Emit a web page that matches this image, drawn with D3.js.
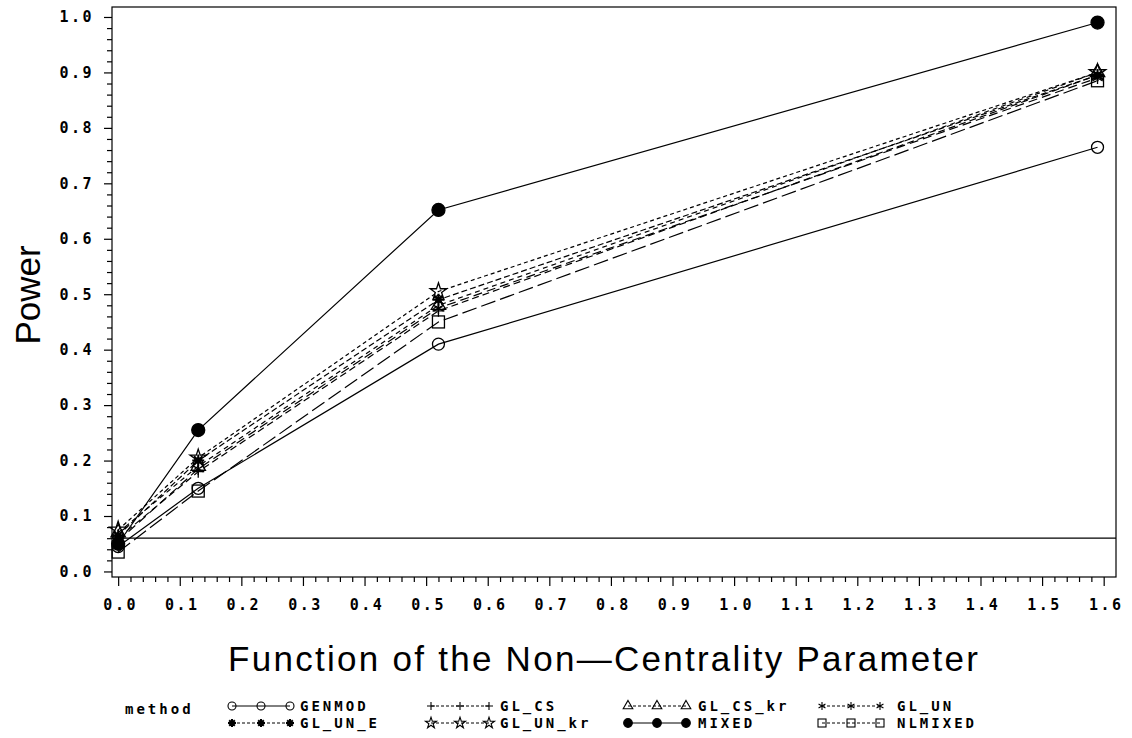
<!DOCTYPE html>
<html>
<head>
<meta charset="utf-8">
<script src="https://cdn.jsdelivr.net/npm/d3@7"></script>
<style>
  body { margin: 0; background: #fff; }
  svg { display: block; }
  .tick-lbl { font-family: "DejaVu Sans Mono", monospace; font-weight: bold; font-size: 15px; letter-spacing: 2.5px; }
  .leg-lbl { font-family: "DejaVu Sans Mono", monospace; font-weight: bold; font-size: 14px; letter-spacing: 3px; }
</style>
</head>
<body>
<div class="svg-container"></div>
<script>
// data
var xValues = [0, 0.13, 0.52, 1.59];
var methods = ["GENMOD", "GL_CS", "GL_CS_kr", "GL_UN", "GL_UN_E", "GL_UN_kr", "MIXED", "NLMIXED"];
var GENMOD   = [0.045, 0.150, 0.410, 0.765];
var GL_CS    = [0.060, 0.180, 0.470, 0.895];
var GL_CS_kr = [0.070, 0.190, 0.480, 0.900];
var GL_UN    = [0.055, 0.185, 0.475, 0.890];
var GL_UN_E  = [0.065, 0.200, 0.490, 0.895];
var GL_UN_kr = [0.075, 0.205, 0.505, 0.900];
var MIXED    = [0.050, 0.255, 0.652, 0.990];
var NLMIXED  = [0.035, 0.145, 0.450, 0.885];
var refLine = 0.06;
var xTicks = [0, 0.1, 0.2, 0.3, 0.4, 0.5, 0.6, 0.7, 0.8, 0.9, 1.0, 1.1, 1.2, 1.3, 1.4, 1.5, 1.6];
var yTicks = [0, 0.1, 0.2, 0.3, 0.4, 0.5, 0.6, 0.7, 0.8, 0.9, 1.0];

var seriesValues = [GENMOD, GL_CS, GL_CS_kr, GL_UN, GL_UN_E, GL_UN_kr, MIXED, NLMIXED];
var styles = {
    GENMOD:   { sym: "circle",   dash: null },
    GL_CS:    { sym: "plus",     dash: "7,4" },
    GL_CS_kr: { sym: "triangle", dash: "5,4" },
    GL_UN:    { sym: "asterisk", dash: "9,5" },
    GL_UN_E:  { sym: "flower",   dash: "6,3" },
    GL_UN_kr: { sym: "star",     dash: "4,3" },
    MIXED:    { sym: "dot",      dash: null },
    NLMIXED:  { sym: "square",   dash: "15,5" }
};

function render() {
    var svg = d3.select(".svg-container").append("svg")
        .attr("width", 1132)
        .attr("height", 738);

    var pLeft = 112, pRight = 1116, pTop = 7, pBottom = 577;

    var x = d3.scaleLinear().domain([-0.01, 1.62]).range([pLeft, pRight]);
    var y = d3.scaleLinear().domain([-0.01, 1.018]).range([pBottom, pTop]);

    // frame
    svg.append("rect")
        .attr("x", pLeft).attr("y", pTop)
        .attr("width", pRight - pLeft).attr("height", pBottom - pTop)
        .attr("fill", "none").attr("stroke", "#000").attr("stroke-width", 1.2);

    // minor ticks
    var xMinor = [], yMinor = [];
    xTicks.forEach(function(t, i) { if (i < xTicks.length - 1) for (var k = 1; k < 5; k++) xMinor.push(t + k * 0.02); });
    yTicks.forEach(function(t, i) { if (i < yTicks.length - 1) for (var k = 1; k < 5; k++) yMinor.push(t + k * 0.02); });

    svg.append("g")
        .attr("transform", "translate(0," + pBottom + ")")
        .call(d3.axisBottom(x).tickValues(xMinor).tickSize(5).tickFormat(""))
        .call(function(g) { g.select(".domain").remove(); });

    svg.append("g")
        .attr("transform", "translate(" + pLeft + ",0)")
        .call(d3.axisLeft(y).tickValues(yMinor).tickSize(5).tickFormat(""))
        .call(function(g) { g.select(".domain").remove(); });

    // X axis
    var gx = svg.append("g")
        .attr("transform", "translate(0," + pBottom + ")")
        .call(d3.axisBottom(x).tickValues(xTicks).tickSize(9).tickPadding(13).tickFormat(d3.format(".1f")));
    gx.select(".domain").remove();
    gx.selectAll("text").attr("class", "tick-lbl").attr("fill", "#000").attr("dx", "2px");

    // Y axis
    var gy = svg.append("g")
        .attr("transform", "translate(" + pLeft + ",0)")
        .call(d3.axisLeft(y).tickValues(yTicks).tickSize(8).tickPadding(12).tickFormat(d3.format(".1f")));
    gy.select(".domain").remove();
    gy.selectAll("text").attr("class", "tick-lbl").attr("fill", "#000").attr("dx", "2px");

    svg.selectAll(".tick line").attr("stroke", "#000").attr("stroke-width", 1.2);

    // axis titles
    svg.append("text")
        .attr("x", 603).attr("y", 671)
        .attr("text-anchor", "middle")
        .attr("textLength", 750)
        .style("font-family", "Liberation Sans, Arial, sans-serif")
        .style("font-size", "35px")
        .text("Function of the Non\u2014Centrality Parameter");

    svg.append("text")
        .attr("transform", "rotate(-90)")
        .attr("x", -295).attr("y", 40)
        .attr("text-anchor", "middle")
        .style("font-family", "Liberation Sans, Arial, sans-serif")
        .style("font-size", "35px")
        .text("Power");

    // reference line
    svg.append("line")
        .attr("x1", pLeft).attr("x2", pRight)
        .attr("y1", y(refLine)).attr("y2", y(refLine))
        .attr("stroke", "#000").attr("stroke-width", 1.2);

    // series
    var line = d3.line()
        .x(function(d) { return x(d[0]); })
        .y(function(d) { return y(d[1]); });

    methods.forEach(function(m, i) {
        var pts = xValues.map(function(v, j) { return [v, seriesValues[i][j]]; });
        svg.append("path")
            .datum(pts)
            .attr("d", line)
            .attr("fill", "none")
            .attr("stroke", "#000")
            .attr("stroke-width", 1.2)
            .attr("stroke-dasharray", styles[m].dash);
    });

    methods.forEach(function(m, i) {
        xValues.forEach(function(v, j) {
            var g = svg.append("g")
                .attr("transform", "translate(" + x(v) + "," + y(seriesValues[i][j]) + ")")
                .attr("stroke", "#000").attr("stroke-width", 1.3);
            drawMarker(g, styles[m].sym, 6);
        });
    });

    // legend
    var legend = svg.append("g");
    legend.append("text")
        .attr("x", 125).attr("y", 714)
        .attr("class", "leg-lbl")
        .text("method");

    var colSym = [232, 431, 628, 822];
    var colLbl = [300, 500, 698, 897];
    var rowY = [706, 723];

    methods.forEach(function(m, i) {
        var col = i % 4, row = Math.floor(i / 4);
        var x0 = colSym[col], yy = rowY[row];
        legend.append("line")
            .attr("x1", x0).attr("x2", x0 + 58)
            .attr("y1", yy).attr("y2", yy)
            .attr("stroke", "#000").attr("stroke-width", 1)
            .attr("stroke-dasharray", styles[m].dash ? "3,2" : null);
        [0, 29, 58].forEach(function(off) {
            var g = legend.append("g")
                .attr("transform", "translate(" + (x0 + off) + "," + yy + ")")
                .attr("stroke", "#000").attr("stroke-width", 1.1);
            drawMarker(g, styles[m].sym, 4);
        });
        legend.append("text")
            .attr("x", colLbl[col]).attr("y", yy + 5)
            .attr("class", "leg-lbl")
            .text(m);
    });
}

// marker drawing
function drawMarker(g, sym, s) {
    var k = s / 6;
    if (sym === "circle") {
        g.append("circle").attr("r", 6 * k).attr("fill", "none");
    } else if (sym === "dot") {
        g.append("circle").attr("r", 6.5 * k).attr("fill", "#000");
    } else if (sym === "square") {
        g.append("rect").attr("x", -6 * k).attr("y", -6 * k).attr("width", 12 * k).attr("height", 12 * k).attr("fill", "none");
    } else if (sym === "plus") {
        g.append("path").attr("d", "M" + (-6 * k) + ",0H" + (6 * k) + "M0," + (-6 * k) + "V" + (6 * k));
    } else if (sym === "triangle") {
        g.append("path").attr("d", d3.symbol(d3.symbolTriangle, 90 * k * k)()).attr("fill", "none");
    } else if (sym === "star") {
        g.append("path").attr("d", d3.symbol(d3.symbolStar, 85 * k * k)()).attr("fill", "none");
    } else if (sym === "asterisk") {
        var p = "";
        [90, 30, 150].forEach(function(a) {
            var r = a * Math.PI / 180, dx = Math.cos(r) * 6 * k, dy = Math.sin(r) * 6 * k;
            p += "M" + (-dx) + "," + (-dy) + "L" + dx + "," + dy;
        });
        g.append("path").attr("d", p);
    } else if (sym === "flower") {
        var p2 = "";
        [0, 45, 90, 135].forEach(function(a) {
            var r = a * Math.PI / 180, dx = Math.cos(r) * 6 * k, dy = Math.sin(r) * 6 * k;
            p2 += "M" + (-dx) + "," + (-dy) + "L" + dx + "," + dy;
        });
        g.append("path").attr("d", p2).attr("stroke-width", 2);
        g.append("circle").attr("r", 2.5 * k).attr("fill", "#000");
    }
}

render();
</script>
</body>
</html>
